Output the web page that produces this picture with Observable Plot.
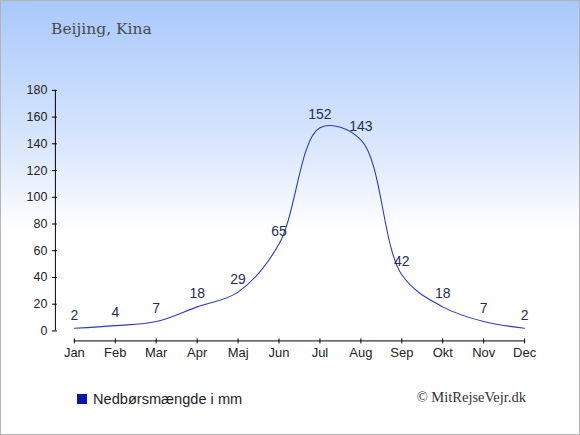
<!DOCTYPE html>
<html>
<head>
<meta charset="utf-8">
<script src="https://cdn.jsdelivr.net/npm/d3@7"></script>
<script src="https://cdn.jsdelivr.net/npm/@observablehq/plot@0.6"></script>
<style>
  html, body { margin: 0; padding: 0; background: #fff; }
  #wrap {
    position: relative; width: 580px; height: 435px; box-sizing: border-box;
    border: 1px solid #b4b4b4;
    background: linear-gradient(to bottom, #a8c8fc 0px, #dce8fd 150px, #ffffff 230px, #ffffff 435px);
    overflow: hidden;
  }
  #title {
    position: absolute; left: 50px; top: 19px; font-family: "DejaVu Serif", serif;
    font-size: 15.5px; color: #4a4a4a; white-space: nowrap;
  }
  #chart { position: absolute; left: -1px; top: -1px; }
  #legend {
    position: absolute; left: 76px; top: 390px; font-family: "Liberation Sans", Arial, sans-serif;
    font-size: 14.6px; color: #222; white-space: nowrap; display: flex; align-items: center;
  }
  #legend .sw { display: inline-block; width: 10px; height: 10px; background: #0a16a8; margin-right: 6px; }
  #copy {
    position: absolute; right: 53px; top: 388px; font-family: "Liberation Serif", serif;
    font-size: 14.5px; color: #333; white-space: nowrap;
  }
</style>
</head>
<body>
<div id="wrap">
  <div id="title">Beijing, Kina</div>
  <div id="chart"></div>
  <div id="legend"><span class="sw"></span>Nedbørsmængde i mm</div>
  <div id="copy">© MitRejseVejr.dk</div>
</div>
<script>
const months = ["Jan","Feb","Mar","Apr","Maj","Jun","Jul","Aug","Sep","Okt","Nov","Dec"];
const precipitation = [2, 4, 7, 18, 29, 65, 152, 143, 42, 18, 7, 2];
const yTicks = [0, 20, 40, 60, 80, 100, 120, 140, 160, 180];

const data = months.map((m, i) => ({i, month: m, value: precipitation[i]}));

const xAxisPos = -0.463;   // y-axis line sits left of January
const yAxisPos = -7.47;    // x-axis line sits below zero

const chart = Plot.plot({
  width: 580,
  height: 435,
  marginLeft: 55,
  marginRight: 55,
  marginTop: 90,
  marginBottom: 94,
  style: {background: "transparent", fontFamily: "Liberation Sans, Arial, sans-serif", overflow: "visible"},
  x: {domain: [xAxisPos, 11], axis: null},
  y: {domain: [yAxisPos, 180], axis: null},
  marks: [
    Plot.ruleX([xAxisPos], {y1: 0, y2: 180, stroke: "#000", strokeWidth: 1}),
    Plot.ruleY([yAxisPos], {x1: 0, x2: 11, stroke: "#000", strokeWidth: 1}),
    Plot.axisY(yTicks, {anchor: "left", tickSize: 5, dx: 2, tickPadding: 5, fontSize: 12.5, fill: "#222", stroke: "#000", label: null}),
    Plot.axisX(d3.range(12), {anchor: "bottom", tickSize: 5, dy: -2, tickPadding: 4, fontSize: 13, fill: "#222", stroke: "#000", label: null, tickFormat: i => months[i]}),
    Plot.line(data, {x: "i", y: "value", curve: "catmull-rom", stroke: "#2b3bbf", strokeWidth: 1.1}),
    Plot.text(data, {x: "i", y: "value", text: d => String(d.value), dy: -13, fontSize: 14, fill: "#1f2f55"})
  ]
});
document.getElementById("chart").appendChild(chart);
</script>
</body>
</html>
